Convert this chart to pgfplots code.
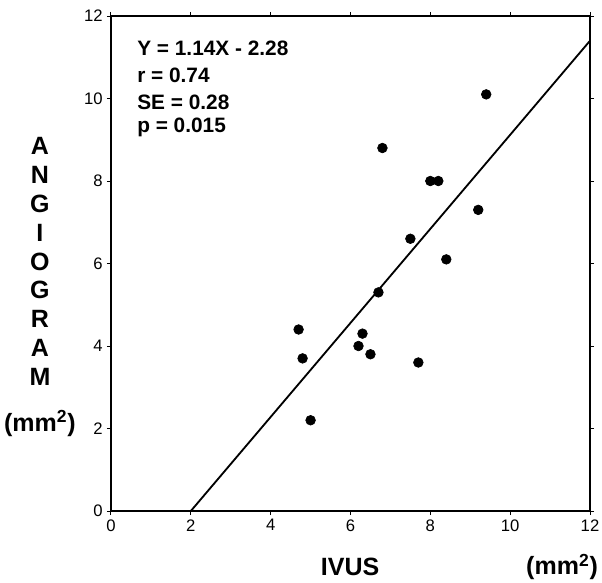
\documentclass[border=0pt]{standalone}
\usepackage{pgfplots}
\pgfplotsset{compat=1.18}
\usepackage{fontspec}
\setmainfont{Liberation Sans}

\pgfplotstableread{
x y
4.7 4.4
4.8 3.7
5.0 2.2
6.2 4.0
6.3 4.3
6.5 3.8
6.7 5.3
6.8 8.8
7.5 6.6
7.7 3.6
8.0 8.0
8.2 8.0
8.4 6.1
9.2 7.3
9.4 10.1
}\points

\begin{document}
\begin{tikzpicture}
\begin{axis}[
  at={(0,0)}, anchor=origin,
  scale only axis,
  width=287.4pt, height=297pt,
  xmin=0, xmax=12, ymin=0, ymax=12,
  xtick={0,2,...,12}, ytick={0,2,...,12},
  tick align=outside,
  major tick length=2.5pt,
  tick style={black, line width=0.6pt},
  axis line style={line width=0.9pt},
  ticklabel style={font=\fontsize{10}{12}\selectfont},
  xticklabel style={yshift=1pt},
  yticklabel style={xshift=1pt},
  /pgf/number format/assume math mode=true,
  clip=false,
]
\addplot[only marks, mark=*, mark size=2.9pt, black] table[x=x, y=y] {\points};
\addplot[black, line width=1.1pt] coordinates {(2,0) (12,11.4)};

\begin{scope}[every node/.style={font=\bfseries\fontsize{12.5}{14}\selectfont, anchor=west, inner sep=0pt}]
\node at (axis cs:0.65,11.22) {Y = 1.14X - 2.28};
\node at (axis cs:0.65,10.57) {r = 0.74};
\node at (axis cs:0.65,9.91) {SE = 0.28};
\node at (axis cs:0.65,9.29) {p = 0.015};
\end{scope}

\begin{scope}[every node/.style={font=\bfseries\fontsize{15}{17}\selectfont, inner sep=0pt}]
\node at (axis cs:-1.78,8.85) {A};
\node at (axis cs:-1.78,8.15) {N};
\node at (axis cs:-1.78,7.45) {G};
\node at (axis cs:-1.78,6.75) {I};
\node at (axis cs:-1.78,6.05) {O};
\node at (axis cs:-1.78,5.35) {G};
\node at (axis cs:-1.78,4.65) {R};
\node at (axis cs:-1.78,3.95) {A};
\node at (axis cs:-1.78,3.25) {M};
\node at (axis cs:-1.78,2.13) {(mm\textsuperscript{2})};
\node at (axis cs:5.99,-1.36) {IVUS};
\node at (axis cs:11.3,-1.36) {(mm\textsuperscript{2})};
\end{scope}
\end{axis}
\pgfresetboundingbox
\path (-66.6pt,-42.6pt) rectangle (294.6pt,306.6pt);
\end{tikzpicture}
\end{document}
